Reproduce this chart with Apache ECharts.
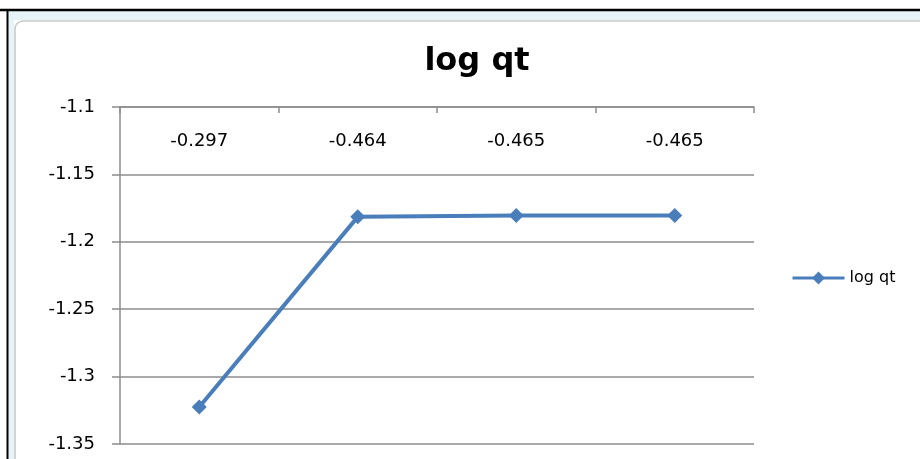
<!DOCTYPE html>
<html>
<head>
<meta charset="utf-8">
<script src="https://cdn.jsdelivr.net/npm/echarts@6/dist/echarts.min.js"></script>
<style>
  html, body { margin: 0; padding: 0; background: #ffffff; }
  #chart { width: 920px; height: 459px; }
</style>
</head>
<body>
<div id="chart"></div>
<script>
// Category labels shown along the top axis
const categories = ['-0.297', '-0.464', '-0.465', '-0.465'];
// log qt values for each category
const logQt = [-1.3225, -1.1815, -1.1805, -1.1805];
// Value axis range
const yMin = -1.35;
const yMax = -1.1;
const yStep = 0.05;

const chart = echarts.init(document.getElementById('chart'));
const gridColor = '#8c8c8c';
const lineColor = '#4a7ebb';
const labelFont = 'DejaVu Sans';

chart.setOption({
  backgroundColor: '#ffffff',
  animation: false,
  title: {
    text: 'log qt',
    left: 472,
    top: 41,
    textAlign: 'center',
    textStyle: { fontFamily: labelFont, fontWeight: 'bold', fontSize: 32, color: '#000000' }
  },
  legend: {
    left: 786,
    top: 265,
    orient: 'vertical',
    itemWidth: 52,
    itemHeight: 16,
    itemGap: 6,
    lineStyle: { width: 3 },
    textStyle: { fontFamily: labelFont, fontSize: 16, color: '#000000' },
    data: ['log qt']
  },
  grid: { left: 120, right: 166, top: 107, bottom: 15 },
  xAxis: {
    type: 'category',
    position: 'top',
    data: categories,
    boundaryGap: true,
    axisLine: { show: true, lineStyle: { color: gridColor, width: 1.5 } },
    axisTick: { show: true, inside: true, length: 6, lineStyle: { color: gridColor, width: 1.5 } },
    axisLabel: { inside: true, margin: 25, fontFamily: labelFont, fontSize: 18, color: '#000000' },
    splitLine: { show: false }
  },
  yAxis: {
    type: 'value',
    min: yMin,
    max: yMax,
    interval: yStep,
    axisLine: { show: true, lineStyle: { color: gridColor, width: 1.5 } },
    axisTick: { show: true, length: 8, lineStyle: { color: gridColor, width: 1.5 } },
    axisLabel: {
      margin: 25,
      fontFamily: labelFont,
      fontSize: 18,
      color: '#000000',
      formatter: v => String(parseFloat(v.toFixed(2)))
    },
    splitLine: { show: true, lineStyle: { color: gridColor, width: 1.5 } }
  },
  series: [{
    name: 'log qt',
    type: 'line',
    data: logQt,
    symbol: 'diamond',
    symbolSize: 15,
    lineStyle: { color: lineColor, width: 4 },
    itemStyle: { color: lineColor }
  }],
  graphic: [
    // window frame: dark edges, pale band and the inner chart-area outline
    { type: 'rect', shape: { x: 8, y: 11, width: 912, height: 9 }, style: { fill: '#e6f4f8' }, silent: true },
    { type: 'rect', shape: { x: 8, y: 11, width: 6, height: 448 }, style: { fill: '#e6f4f8' }, silent: true },
    { type: 'line', shape: { x1: 0, y1: 10, x2: 920, y2: 10 }, style: { stroke: '#000000', lineWidth: 2.5 }, silent: true },
    { type: 'line', shape: { x1: 7.5, y1: 10, x2: 7.5, y2: 459 }, style: { stroke: '#000000', lineWidth: 2 }, silent: true },
    { type: 'rect', shape: { x: 15, y: 21, width: 920, height: 460, r: 8 }, style: { fill: 'none', stroke: '#c8c8c8', lineWidth: 1.5 }, silent: true }
  ]
});
</script>
</body>
</html>
